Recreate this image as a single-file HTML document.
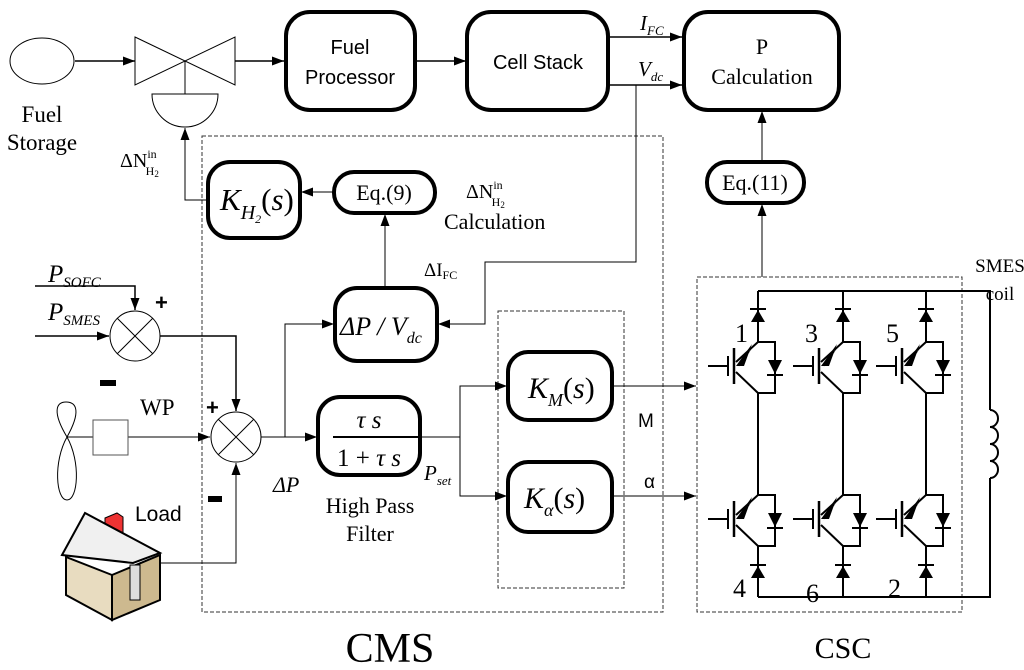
<!DOCTYPE html>
<html><head><meta charset="utf-8"><style>
html,body{margin:0;padding:0;background:#fff}
svg{display:block}
text{font-family:"Liberation Serif",serif;fill:#000}
.s{font-family:"Liberation Sans",sans-serif}
</style></head><body>
<svg width="1024" height="670" viewBox="0 0 1024 670" xmlns="http://www.w3.org/2000/svg">
<defs>
<marker id="a" markerWidth="12" markerHeight="9" refX="12" refY="4.5" orient="auto" markerUnits="userSpaceOnUse"><path d="M0,0 L12,4.5 L0,9 z" fill="#000"/></marker>
<g id="ig">
 <path d="M0,0 H17 V51 H0" fill="none" stroke="#000" stroke-width="2"/>
 <line x1="-24" y1="6" x2="-24" y2="42" stroke="#000" stroke-width="2.5"/>
 <line x1="-50" y1="24" x2="-30" y2="24" stroke="#000" stroke-width="2"/>
 <line x1="-30" y1="14" x2="-30" y2="34" stroke="#000" stroke-width="2"/>
 <line x1="-22" y1="20" x2="0" y2="0" stroke="#000" stroke-width="2"/>
 <path d="M-20,26 L-4,3 L-11,14 z M-22,24 L-6,2 L-14,24 z" fill="#000"/>
 <line x1="-22" y1="30" x2="0" y2="51" stroke="#000" stroke-width="2"/>
 <path d="M10,18 L24,18 L17,32 z" fill="#000"/>
 <line x1="9" y1="33" x2="25" y2="33" stroke="#000" stroke-width="2"/>
</g>
<g id="di"><path d="M-7,6 L7,6 L0,-6 z" fill="#000"/><line x1="-8" y1="-7" x2="8" y2="-7" stroke="#000" stroke-width="2"/></g>
</defs>

<g fill="none" stroke="#333" stroke-width="1" stroke-dasharray="4,2">
<rect x="202" y="136" width="461" height="476"/>
<rect x="498" y="311" width="126" height="277"/>
<rect x="697" y="277" width="265" height="335"/>
</g>

<ellipse cx="42" cy="61" rx="32" ry="23" fill="none" stroke="#000" stroke-width="1"/>
<path d="M135,37 L235,85 L235,37 L135,85 z" fill="none" stroke="#000" stroke-width="1"/>
<line x1="185" y1="61" x2="185" y2="94" stroke="#000"/>
<path d="M152,94 H218 A33,33 0 0 1 152,94 z" fill="none" stroke="#000"/>
<g stroke="#000" stroke-width="1.5" fill="none" marker-end="url(#a)">
<line x1="75" y1="61" x2="135" y2="61"/>
<line x1="235" y1="61" x2="284" y2="61"/>
<line x1="415" y1="61" x2="466" y2="61"/>
<line x1="608" y1="37" x2="682" y2="37"/>
<line x1="608" y1="85" x2="682" y2="85"/>
</g>
<text x="42" y="122" font-size="23" text-anchor="middle">Fuel</text>
<text x="42" y="150" font-size="23" text-anchor="middle">Storage</text>

<g fill="#fff" stroke="#000" stroke-width="4">
<rect x="286" y="12" width="129" height="98" rx="24"/>
<rect x="467" y="12" width="141" height="98" rx="24"/>
<rect x="684" y="12" width="155" height="98" rx="24"/>
<rect x="208" y="162" width="92" height="76" rx="22"/>
<rect x="334" y="172" width="101" height="41" rx="20"/>
<rect x="335" y="288" width="102" height="73" rx="22"/>
<rect x="318" y="397" width="102" height="78" rx="22"/>
<rect x="508" y="352" width="104" height="68" rx="20"/>
<rect x="508" y="462" width="104" height="70" rx="20"/>
<rect x="707" y="162" width="97" height="41" rx="20"/>
</g>
<text class="s" x="350" y="54" font-size="20" text-anchor="middle">Fuel</text>
<text class="s" x="350" y="84" font-size="20" text-anchor="middle">Processor</text>
<text class="s" x="538" y="69" font-size="20" text-anchor="middle">Cell Stack</text>
<text x="762" y="54" font-size="22" text-anchor="middle">P</text>
<text x="762" y="84" font-size="22" text-anchor="middle">Calculation</text>
<text x="640" y="30" font-size="21" font-style="italic">I<tspan font-size="13" dy="5">FC</tspan></text>
<text x="638" y="76" font-size="21" font-style="italic">V<tspan font-size="13" dy="5">dc</tspan></text>

<text x="220" y="210" font-size="31" font-style="italic">K<tspan font-size="20" dy="9">H</tspan><tspan font-size="12" dy="4">2</tspan><tspan font-style="normal" dy="-13">(</tspan>s<tspan font-style="normal">)</tspan></text>
<text x="384" y="200" font-size="22" text-anchor="middle">Eq.(9)</text>
<text x="340" y="335" font-size="26" font-style="italic">ΔP / V<tspan font-size="16" dy="8">dc</tspan></text>
<text x="369" y="428" font-size="25" font-style="italic" text-anchor="middle">τ s</text>
<line x1="333" y1="437" x2="420" y2="437" stroke="#000" stroke-width="2"/>
<text x="369" y="466" font-size="25" text-anchor="middle">1 + <tspan font-style="italic">τ s</tspan></text>
<text x="528" y="398" font-size="30" font-style="italic">K<tspan font-size="18" dy="8">M</tspan><tspan font-style="normal" dy="-8">(</tspan>s<tspan font-style="normal">)</tspan></text>
<text x="524" y="508" font-size="30" font-style="italic">K<tspan font-size="18" dy="8">α</tspan><tspan font-style="normal" dy="-8">(</tspan>s<tspan font-style="normal">)</tspan></text>
<text x="755" y="190" font-size="22" text-anchor="middle">Eq.(11)</text>

<text x="120" y="167" font-size="20">ΔN<tspan font-size="12" dy="-9">in</tspan><tspan font-size="12" dx="-11" dy="17">H</tspan><tspan font-size="9" dy="2">2</tspan></text>
<text x="466" y="198" font-size="20">ΔN<tspan font-size="12" dy="-9">in</tspan><tspan font-size="12" dx="-11" dy="17">H</tspan><tspan font-size="9" dy="2">2</tspan></text>
<text x="444" y="229" font-size="22">Calculation</text>
<text x="424" y="276" font-size="19">ΔI<tspan font-size="12" dy="3">FC</tspan></text>
<text x="370" y="513" font-size="22" text-anchor="middle">High Pass</text>
<text x="370" y="541" font-size="22" text-anchor="middle">Filter</text>
<text x="424" y="480" font-size="21" font-style="italic">P<tspan font-size="13" dy="5">set</tspan></text>
<text x="273" y="492" font-size="22" font-style="italic">ΔP</text>
<text class="s" x="638" y="427" font-size="19">M</text>
<text class="s" x="644" y="488" font-size="19">α</text>
<text x="140" y="415" font-size="23">WP</text>
<text class="s" x="135" y="521" font-size="21">Load</text>
<text x="48" y="282" font-size="25" font-style="italic">P<tspan font-size="15" dy="5">SOFC</tspan></text>
<text x="48" y="320" font-size="25" font-style="italic">P<tspan font-size="15" dy="5">SMES</tspan></text>
<text class="s" x="155" y="310" font-size="22" font-weight="bold">+</text>
<rect x="100" y="380" width="16" height="6" fill="#000"/>
<text class="s" x="206" y="415" font-size="22" font-weight="bold">+</text>
<rect x="208" y="496" width="14" height="6" fill="#000"/>
<text x="1000" y="272" font-size="19" text-anchor="middle">SMES</text>
<text x="1000" y="300" font-size="19" text-anchor="middle"> coil</text>
<text x="390" y="662" font-size="42" text-anchor="middle">CMS</text>
<text x="843" y="658" font-size="30" text-anchor="middle">CSC</text>

<g stroke="#000" stroke-width="1" fill="none">
<polyline points="208,200 185,200 185,128" marker-end="url(#a)"/>
<line x1="334" y1="192" x2="301" y2="192" marker-end="url(#a)"/>
<line x1="385" y1="288" x2="385" y2="214" marker-end="url(#a)"/>
<polyline points="636,85 636,262 485,262 485,324 438,324" marker-end="url(#a)"/>
<line x1="762" y1="162" x2="762" y2="111" marker-end="url(#a)"/>
<line x1="762" y1="277" x2="762" y2="204" marker-end="url(#a)"/>
<polyline points="285,437 285,324 334,324" marker-end="url(#a)"/>
<line x1="261" y1="437" x2="317" y2="437" marker-end="url(#a)"/>
<polyline points="420,437 460,437 460,386 507,386" marker-end="url(#a)"/>
<polyline points="460,437 460,496 507,496" marker-end="url(#a)"/>
<line x1="612" y1="386" x2="696" y2="386" marker-end="url(#a)"/>
<line x1="612" y1="496" x2="696" y2="496" marker-end="url(#a)"/>
<polyline points="35,286 135,286 135,310" marker-end="url(#a)" stroke-width="1.5"/>
<line x1="35" y1="336" x2="109" y2="336" marker-end="url(#a)" stroke-width="1.5"/>
<polyline points="160,336 236,336 236,411" marker-end="url(#a)" stroke-width="1.5"/>
<line x1="128" y1="437" x2="210" y2="437" marker-end="url(#a)"/>
<polyline points="160,563 236,563 236,463" marker-end="url(#a)"/>
</g>
<g fill="#fff" stroke="#000" stroke-width="1">
<circle cx="135" cy="336" r="25"/>
<circle cx="236" cy="437" r="25"/>
</g>
<path d="M117,318 L153,354 M153,318 L117,354 M218,419 L254,455 M254,419 L218,455" stroke="#000"/>
<path d="M67,437 C52,412 56,402 66,402 C77,402 81,412 67,437 C53,462 56,500 67,500 C78,500 81,462 67,437 z" fill="none" stroke="#000"/>
<line x1="67" y1="437" x2="93" y2="437" stroke="#000"/>
<rect x="93" y="420" width="35" height="35" fill="none" stroke="#555"/>
<path d="M105,518 L117,513 L123,517 L123,533 L105,528 z" fill="#e33" stroke="#000"/>
<path d="M62,555 L85,513 L160,553 L133,563 z" fill="#f0f0f0" stroke="#000" stroke-width="2"/>
<path d="M66,557 L66,595 L112,620 L112,575 z" fill="#e8dcc0" stroke="#000" stroke-width="2"/>
<path d="M112,575 L112,620 L160,600 L160,555 z" fill="#cdb98f" stroke="#000" stroke-width="2"/>
<rect x="130" y="565" width="10" height="35" fill="#ddd" stroke="#000"/>

<g stroke="#000" stroke-width="2" fill="none">
<polyline points="758,291 990,291 990,410"/>
<polyline points="758,597 990,597 990,478"/>
<path d="M990,410 a8,8.5 0 0 1 0,17 a8,8.5 0 0 1 0,17 a8,8.5 0 0 1 0,17 a8,8.5 0 0 1 0,17"/>
<line x1="758" y1="291" x2="758" y2="342"/><line x1="843" y1="291" x2="843" y2="342"/><line x1="926" y1="291" x2="926" y2="342"/>
<line x1="758" y1="393" x2="758" y2="495"/><line x1="843" y1="393" x2="843" y2="495"/><line x1="926" y1="393" x2="926" y2="495"/>
<line x1="758" y1="546" x2="758" y2="597"/><line x1="843" y1="546" x2="843" y2="597"/><line x1="926" y1="546" x2="926" y2="597"/>
</g>
<use href="#di" x="758" y="316"/><use href="#di" x="843" y="316"/><use href="#di" x="926" y="316"/>
<use href="#di" x="758" y="572"/><use href="#di" x="843" y="572"/><use href="#di" x="926" y="572"/>
<use href="#ig" x="758" y="342"/><use href="#ig" x="843" y="342"/><use href="#ig" x="926" y="342"/>
<use href="#ig" x="758" y="495"/><use href="#ig" x="843" y="495"/><use href="#ig" x="926" y="495"/>
<g font-size="26">
<text x="735" y="342">1</text><text x="805" y="342">3</text><text x="886" y="342">5</text>
<text x="733" y="597">4</text><text x="806" y="602">6</text><text x="888" y="597">2</text>
</g>
</svg>
</body></html>
